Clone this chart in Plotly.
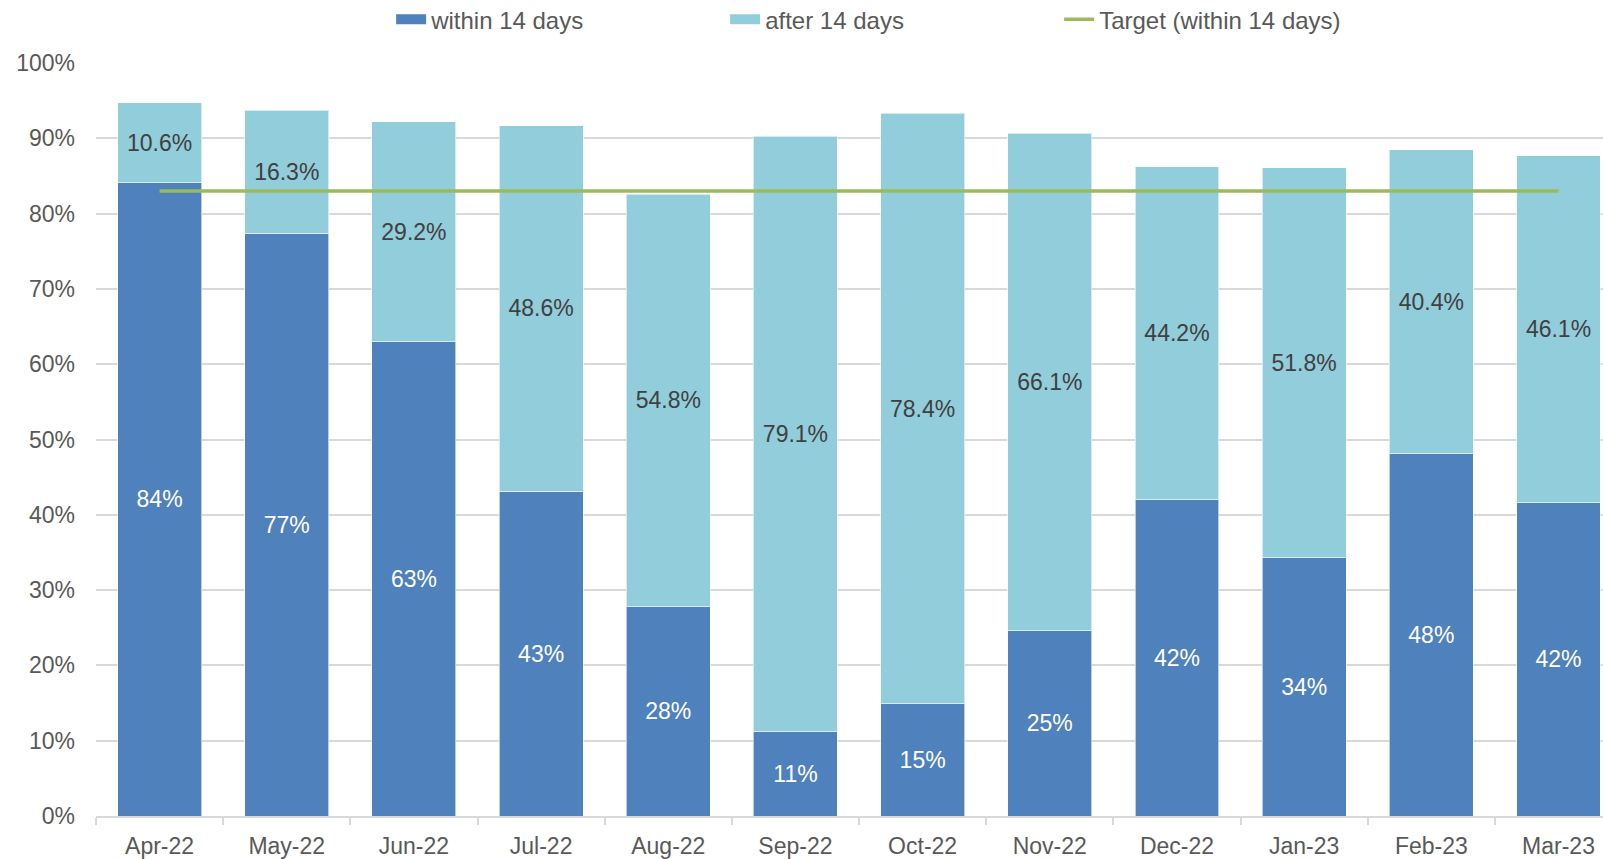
import plotly.graph_objects as go

months = ["Apr-22", "May-22", "Jun-22", "Jul-22", "Aug-22", "Sep-22",
          "Oct-22", "Nov-22", "Dec-22", "Jan-23", "Feb-23", "Mar-23"]
within_14 = [84.1, 77.4, 63.0, 43.1, 27.8, 11.2, 14.9, 24.6, 42.0, 34.3, 48.1, 41.6]
after_14 = [10.6, 16.3, 29.2, 48.6, 54.8, 79.1, 78.4, 66.1, 44.2, 51.8, 40.4, 46.1]
target = [83] * len(months)
y_ticks = [0, 10, 20, 30, 40, 50, 60, 70, 80, 90, 100]
y_tick_labels = [f"{v}%" for v in y_ticks]

FONT = "Arial, Liberation Sans, sans-serif"
DARK = "#4F81BD"
LIGHT = "#92CDDC"
GREEN = "#9BBB59"
GRID = "#D9D9D9"
TXT = "#595959"

fig = go.Figure()
fig.add_trace(go.Bar(
    x=months, y=within_14, name="within 14 days", showlegend=False,
    marker=dict(color=DARK, line=dict(color="rgba(255,255,255,0.6)", width=1)),
    text=[f"{round(v)}%" for v in within_14],
    textposition="inside", insidetextanchor="middle", textangle=0,
    textfont=dict(family=FONT, size=23, color="white"),
    hoverinfo="skip",
))
fig.add_trace(go.Bar(
    x=months, y=after_14, name="after 14 days", showlegend=False,
    marker=dict(color=LIGHT, line=dict(color="rgba(255,255,255,0.6)", width=1)),
    text=[f"{v:.1f}%" for v in after_14],
    textposition="inside", insidetextanchor="middle", textangle=0,
    textfont=dict(family=FONT, size=23, color="#404040"),
    hoverinfo="skip",
))
fig.add_trace(go.Scatter(
    x=months, y=target, name="Target (within 14 days)", mode="lines",
    line=dict(color=GREEN, width=3.5), showlegend=False,
    hoverinfo="skip",
))
# legend entries (wide swatches like the original)
for name, color, width in [("within 14 days", DARK, 13),
                           ("after 14 days", LIGHT, 13),
                           ("Target (within 14 days)", GREEN, 3.5)]:
    fig.add_trace(go.Scatter(
        x=[None], y=[None], name=name, mode="lines",
        line=dict(color=color, width=width), showlegend=True,
        hoverinfo="skip",
    ))

fig.update_layout(
    width=1603, height=859,
    barmode="stack", bargap=0.34,
    paper_bgcolor="white", plot_bgcolor="white",
    margin=dict(l=96, r=0, t=63, b=41),
    font=dict(family=FONT, size=23, color=TXT),
    uniformtext=dict(minsize=23, mode="show"),
    showlegend=True,
    legend=dict(
        orientation="h", xref="container", yref="container",
        x=0.244, y=0.977, xanchor="left", yanchor="middle",
        font=dict(family=FONT, size=24, color=TXT),
        entrywidth=289, entrywidthmode="pixels",
        traceorder="normal",
        bgcolor="rgba(0,0,0,0)",
    ),
    xaxis=dict(
        type="category", range=[-0.5, 11.35],
        showline=True, linecolor=GRID, linewidth=2,
        ticks="outside", tickson="boundaries", ticklen=7, tickcolor=GRID, tickwidth=2,
        ticklabelstandoff=8,
        showgrid=False, tickfont=dict(family=FONT, size=23, color=TXT),
    ),
    yaxis=dict(
        range=[0, 100], tickvals=y_ticks, ticktext=y_tick_labels,
        showgrid=True, gridcolor=GRID, gridwidth=1.5,
        showline=False, zeroline=False, ticks="",
        ticklabelstandoff=20,
        tickfont=dict(family=FONT, size=23, color=TXT),
    ),
)

fig.write_html("out.html", config={"displayModeBar": False},
               post_script="document.body.style.margin='0';")
